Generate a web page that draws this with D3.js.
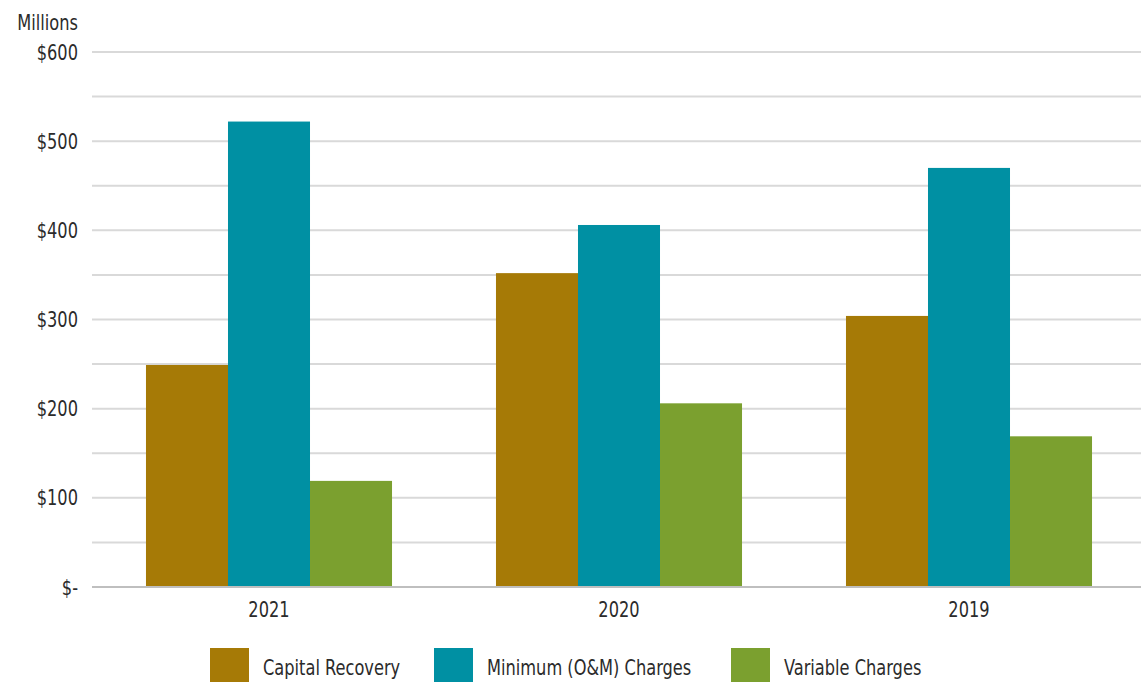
<!DOCTYPE html>
<html>
<head>
<meta charset="utf-8">
<script src="https://cdn.jsdelivr.net/npm/d3@7"></script>
<style>
  body { margin: 0; background: #fff; }
  text { font-family: 'DejaVu Sans Condensed', 'DejaVu Sans', sans-serif; fill: #2b2b2b; }
</style>
</head>
<body>
<script>
// chart data
var years = ['2021', '2020', '2019'];
var seriesNames = ['Capital Recovery', 'Minimum (O&M) Charges', 'Variable Charges'];
var capitalRecovery = [249, 352, 304];
var minimumCharges = [522, 406, 470];
var variableCharges = [119, 206, 169];
var yTicks = [0, 100, 200, 300, 400, 500, 600];

var colors = ['#A67A06', '#0090A3', '#7BA02F'];
var allSeries = [capitalRecovery, minimumCharges, variableCharges];

var width = 1141, height = 682;
var plotLeft = 94, plotRight = 1144, plotTop = 52, plotBottom = 587;
var fontSize = '22px';
var squeeze = 'scale(0.82,1)'; // reference font is a condensed face

var svg = d3.select('body').append('svg')
  .attr('width', width)
  .attr('height', height);

var x = d3.scaleBand()
  .domain(years)
  .range([plotLeft, plotRight])
  .paddingInner(0.297)
  .paddingOuter(0.1485);

var xSub = d3.scaleBand()
  .domain(seriesNames)
  .range([0, x.bandwidth()]);

var y = d3.scaleLinear()
  .domain([0, 600])
  .range([plotBottom, plotTop]);

// gridlines every 50
var grid = svg.append('g');
grid.selectAll('line')
  .data(d3.range(50, 601, 50))
  .enter().append('line')
  .attr('x1', 92)
  .attr('x2', width)
  .attr('y1', d => y(d))
  .attr('y2', d => y(d))
  .attr('stroke', '#d9d9d9')
  .attr('stroke-width', 2);

// bars
var groups = svg.append('g').selectAll('g')
  .data(years)
  .enter().append('g')
  .attr('transform', d => 'translate(' + x(d) + ',0)');

groups.selectAll('rect')
  .data((d, i) => seriesNames.map((s, j) => ({ name: s, value: allSeries[j][i], color: colors[j] })))
  .enter().append('rect')
  .attr('x', d => xSub(d.name))
  .attr('width', xSub.bandwidth())
  .attr('y', d => y(d.value))
  .attr('height', d => y(0) - y(d.value))
  .attr('fill', d => d.color);

// baseline
svg.append('line')
  .attr('x1', 92)
  .attr('x2', width)
  .attr('y1', y(0))
  .attr('y2', y(0))
  .attr('stroke', '#bfbfbf')
  .attr('stroke-width', 2);

// y axis labels
var yAxis = d3.axisLeft(y)
  .tickValues(yTicks)
  .tickSize(0)
  .tickPadding(0)
  .tickFormat(d => d === 0 ? '$-' : '$' + d);

svg.append('g')
  .attr('transform', 'translate(78,0)')
  .call(yAxis)
  .call(g => g.select('.domain').remove())
  .selectAll('text')
  .style('font-size', fontSize)
  .attr('fill', '#2b2b2b')
  .attr('transform', squeeze);

svg.append('g')
  .attr('transform', 'translate(78,30)')
  .append('text')
  .attr('text-anchor', 'end')
  .attr('transform', squeeze)
  .style('font-size', fontSize)
  .text('Millions');

// x axis labels
var xAxis = d3.axisBottom(x).tickSize(0).tickPadding(0);
svg.append('g')
  .attr('transform', 'translate(0,' + (plotBottom + 14) + ')')
  .call(xAxis)
  .call(g => g.select('.domain').remove())
  .selectAll('text')
  .style('font-size', fontSize)
  .attr('fill', '#2b2b2b')
  .attr('transform', squeeze);

// legend
var legendX = [210, 434, 731];
var legend = svg.append('g').selectAll('g')
  .data(seriesNames)
  .enter().append('g')
  .attr('transform', (d, i) => 'translate(' + legendX[i] + ',648)');

legend.append('rect')
  .attr('width', 39)
  .attr('height', 34)
  .attr('fill', (d, i) => colors[i]);

legend.append('g')
  .attr('transform', 'translate(53,27)')
  .append('text')
  .attr('transform', squeeze)
  .style('font-size', fontSize)
  .text(d => d);
</script>
</body>
</html>
